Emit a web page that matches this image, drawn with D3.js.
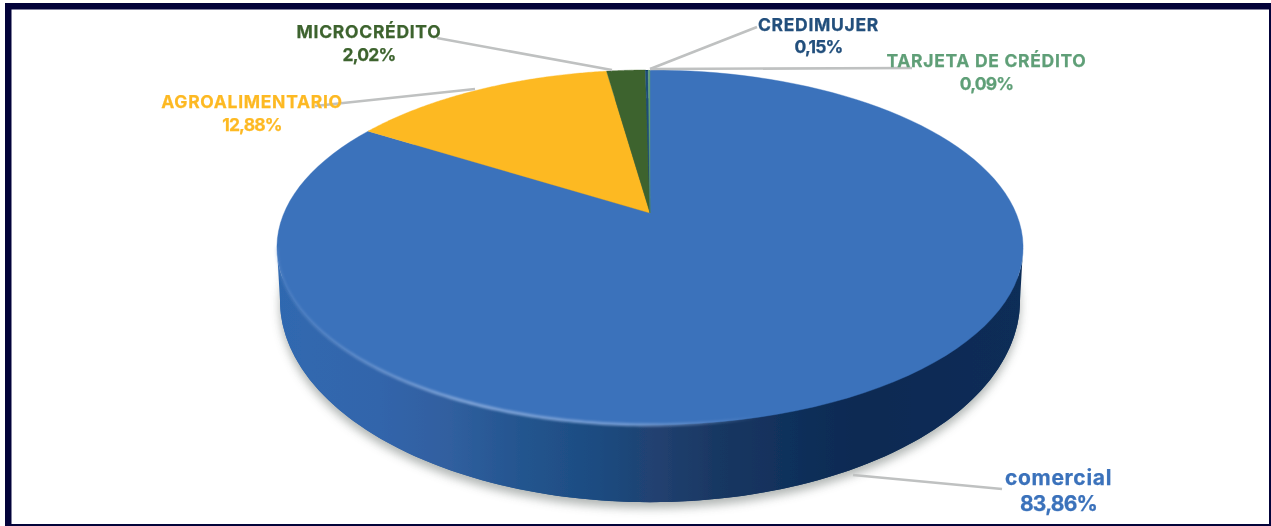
<!DOCTYPE html>
<html lang="es">
<head>
<meta charset="utf-8">
<style>
html,body{margin:0;padding:0;background:#fff;overflow:hidden}
svg{display:block}
text{font-family:Inter,"Open Sans",sans-serif;font-weight:700;text-anchor:middle}
</style>
<script src="https://cdn.jsdelivr.net/npm/d3@7/dist/d3.min.js"></script>
</head>
<body>
<svg id="chart" width="1271" height="526"></svg>
<script>
const categories = ["comercial", "AGROALIMENTARIO", "MICROCRÉDITO", "CREDIMUJER", "TARJETA DE CRÉDITO"];
// Printed labels. The yellow slice is drawn wider than its printed figure (about 13.88% of the disc).
const valueLabels = ["83,86%", "12,88%", "2,02%", "0,15%", "0,09%"];
const sliceShares = [83.86, 13.88, 2.02, 0.15, 0.09];
const sliceColors = ["#3b72bb", "#fdb924", "#3e642f", "#1f4e79", "#5f9f77"];
const labelColors = ["#3b72bb", "#fdb924", "#3e642f", "#224f7c", "#5f9f77"];
const labelCentreX = [1058.5, 252, 369, 818.5, 986.5];
const labelNameY = [485, 108, 38, 31, 67];
const labelValueY = [511, 131, 61, 53, 90];
const labelSizes = [21, 17.5, 17.5, 17.5, 17.5];
const leaderLines = [[853, 475, 1002, 489], [315, 106, 475, 89], [437, 38, 612, 70], [650, 69, 757, 27], [650, 69, 912, 68]];
const sideStops = [[277, "#2f68b0"], [380, "#3365ab"], [450, "#305f9f"], [520, "#24558f"], [600, "#1c4b80"], [660, "#21406f"], [720, "#183762"], [800, "#0f2f5a"], [860, "#0c2a52"], [1023, "#0d2d58"]];

const svg = d3.select("#chart");
const defs = svg.append("defs");

// perspective disc: tilt k, horizontal scale c, vertical scale a, centre at (cx, cy)
const k = 0.194;
const topRim = {cx: 650, cy: 213, c: 366, a: 170.8};
const baseRim = {cx: 650, cy: 261, c: 363, a: 194.4};
const project = (rim, th) => {
  const X = Math.sin(th), Y = Math.cos(th), w = 1 + k * Y;
  return [rim.cx + rim.c * X / w, rim.cy - rim.a * Y / w];
};
const sweep = (rim, a0, a1) => d3.range(0, 121).map(i => project(rim, a0 + (a1 - a0) * i / 120));
const line = d3.line();

// frame
svg.append("rect").attr("x", 0).attr("y", 0).attr("width", 1271).attr("height", 526).attr("fill", "#fff");
svg.append("rect").attr("x", 5).attr("y", 3).attr("width", 1266).attr("height", 523).attr("fill", "#03033a");
svg.append("rect").attr("x", 11.5).attr("y", 9.5).attr("width", 1257.5).attr("height", 514.5).attr("fill", "#fff");

// filters and gradient
const blur = defs.append("filter").attr("id", "shadowBlur").attr("x", "-10%").attr("y", "-10%").attr("width", "120%").attr("height", "120%");
blur.append("feGaussianBlur").attr("stdDeviation", 5);
const soft = defs.append("filter").attr("id", "soft").attr("x", "-5%").attr("y", "-5%").attr("width", "110%").attr("height", "110%");
soft.append("feGaussianBlur").attr("stdDeviation", 0.7);
const rimBlur = defs.append("filter").attr("id", "rimBlur").attr("x", "-5%").attr("y", "-5%").attr("width", "110%").attr("height", "110%");
rimBlur.append("feGaussianBlur").attr("stdDeviation", 1);
const textSoft = defs.append("filter").attr("id", "textSoft").attr("filterUnits", "userSpaceOnUse")
  .attr("x", 0).attr("y", 0).attr("width", 1271).attr("height", 526);
textSoft.append("feGaussianBlur").attr("stdDeviation", 0.35);

const xStop = d3.scaleLinear().domain([277, 1023]).range([0, 100]);
const sideGrad = defs.append("linearGradient").attr("id", "sideGrad").attr("gradientUnits", "userSpaceOnUse")
  .attr("x1", 277).attr("x2", 1023).attr("y1", 0).attr("y2", 0);
sideGrad.selectAll("stop").data(sideStops).join("stop")
  .attr("offset", d => xStop(d[0]) + "%").attr("stop-color", d => d[1]);
const rimGrad = defs.append("linearGradient").attr("id", "rimGrad").attr("gradientUnits", "userSpaceOnUse")
  .attr("x1", 277).attr("x2", 760).attr("y1", 0).attr("y2", 0);
rimGrad.append("stop").attr("offset", "0%").attr("stop-color", "#7da2d6").attr("stop-opacity", 0.2);
rimGrad.append("stop").attr("offset", "40%").attr("stop-color", "#7da2d6").attr("stop-opacity", 1);
rimGrad.append("stop").attr("offset", "75%").attr("stop-color", "#7da2d6").attr("stop-opacity", 0.8);
rimGrad.append("stop").attr("offset", "100%").attr("stop-color", "#7da2d6").attr("stop-opacity", 0);

// shadow beneath the disc
svg.append("path")
  .attr("d", line(sweep(baseRim, 0, 2 * Math.PI)) + "Z")
  .attr("transform", "translate(0,6)")
  .attr("fill", "#a9aeac").attr("opacity", 0.9).attr("filter", "url(#shadowBlur)");

// side wall
const thR = Math.acos(-k), thL = 2 * Math.PI - thR;
svg.append("path").attr("d", line(sweep(baseRim, 0, 2 * Math.PI)) + "Z").attr("fill", "url(#sideGrad)").attr("filter", "url(#soft)");
svg.append("path")
  .attr("d", line(sweep(topRim, thR, thL).concat(sweep(baseRim, thL, thR))) + "Z")
  .attr("fill", "url(#sideGrad)").attr("filter", "url(#soft)");

// top face from d3.pie angles
const pie = d3.pie().sort(null).value(d => d);
const arcs = pie(sliceShares);
const slicePath = d => line([[topRim.cx, topRim.cy]].concat(sweep(topRim, d.startAngle, d.endAngle))) + "Z";
const faces = svg.append("g").attr("filter", "url(#soft)");
faces.selectAll("path").data(arcs).join("path")
  .attr("d", slicePath)
  .attr("fill", (d, i) => sliceColors[i])
  .attr("stroke", (d, i) => sliceColors[i])
  .attr("stroke-width", 0.4);

// light rim on the front edge
svg.append("path")
  .attr("d", line(sweep(topRim, 2 * Math.PI * 0.5 - 0.25, thL)))
  .attr("fill", "none").attr("stroke", "url(#rimGrad)").attr("stroke-width", 3.2).attr("filter", "url(#rimBlur)");

// leader lines
svg.append("g").attr("filter", "url(#textSoft)").selectAll("line").data(leaderLines).join("line")
  .attr("x1", d => d[0]).attr("y1", d => d[1]).attr("x2", d => d[2]).attr("y2", d => d[3])
  .attr("stroke", "#bfc1c1").attr("stroke-width", 2.6);

// labels
const labels = svg.append("g").attr("filter", "url(#textSoft)").selectAll("g").data(categories).join("g");
labels.append("text")
  .attr("x", (d, i) => labelCentreX[i]).attr("y", (d, i) => labelNameY[i])
  .attr("font-size", (d, i) => labelSizes[i]).attr("fill", (d, i) => labelColors[i])
  .attr("letter-spacing", 0.7)
  .attr("stroke", (d, i) => labelColors[i]).attr("stroke-width", 0.25)
  .text(d => d);
labels.append("text")
  .attr("x", (d, i) => labelCentreX[i]).attr("y", (d, i) => labelValueY[i])
  .attr("font-size", (d, i) => labelSizes[i]).attr("fill", (d, i) => labelColors[i])
  .attr("letter-spacing", -0.8)
  .attr("stroke", (d, i) => labelColors[i]).attr("stroke-width", 0.25)
  .text((d, i) => valueLabels[i]);
</script>
</body>
</html>
